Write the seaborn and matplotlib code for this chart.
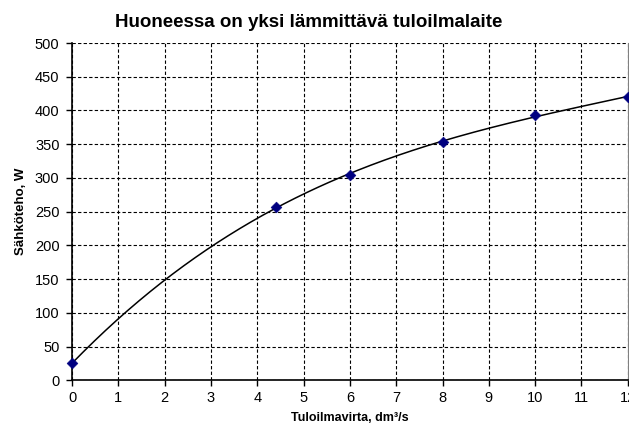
import numpy as np
import pandas as pd
from matplotlib import pyplot as plt
import seaborn as sns

# Mitatut pisteet
tuloilmavirta = [0, 4.4, 6, 8, 10, 12]
sahkoteho = [25, 257, 305, 353, 393, 420]

x_ticks = list(range(0, 13))
y_ticks = list(range(0, 501, 50))

otsikko = "Huoneessa on yksi lämmittävä tuloilmalaite"
x_otsikko = "Tuloilmavirta, dm³/s"
y_otsikko = "Sähköteho, W"

sns.set_style("white")
plt.rcParams['font.family'] = ['Liberation Sans', 'DejaVu Sans']
plt.rcParams['text.color'] = 'black'
plt.rcParams['axes.labelcolor'] = 'black'
plt.rcParams['xtick.color'] = 'black'
plt.rcParams['ytick.color'] = 'black'

df = pd.DataFrame({'x': tuloilmavirta, 'y': sahkoteho})

# Trendiviiva (3. asteen polynomi)
kertoimet = np.polyfit(df['x'], df['y'], 3)
xx = np.linspace(0, 12, 200)
trendi = pd.DataFrame({'x': xx, 'y': np.polyval(kertoimet, xx)})

fig = plt.figure(figsize=(6.29, 4.28), dpi=100)
ax = fig.add_axes([0.1145, 0.1115, 0.8835, 0.788])

sns.lineplot(data=trendi, x='x', y='y', ax=ax, color='black', linewidth=1.1)
sns.scatterplot(data=df, x='x', y='y', ax=ax, marker='D', color='#000080',
                s=30, edgecolor='#000080', zorder=5, clip_on=False)

ax.set_xlim(0, 12)
ax.set_ylim(0, 500)
ax.set_xticks(x_ticks)
ax.set_yticks(y_ticks)
ax.grid(True, color='black', linestyle=(0, (3, 2)), linewidth=0.8)
ax.set_axisbelow(True)

ax.tick_params(axis='both', direction='out', length=4, width=1, color='black',
               labelsize=10.5, pad=5, bottom=True, left=True)
ax.tick_params(axis='x', pad=4)

ax.spines['top'].set_visible(False)
ax.spines['right'].set_color('#808080')
ax.spines['left'].set_color('black')
ax.spines['bottom'].set_color('black')
for s in ['left', 'bottom']:
    ax.spines[s].set_linewidth(1.2)

ax.set_xlabel(x_otsikko, fontsize=9, fontweight='bold', labelpad=5)
ax.set_ylabel(y_otsikko, fontsize=9.5, fontweight='bold', labelpad=6)
fig.suptitle(otsikko, fontsize=13.5, fontweight='bold', x=0.49, y=0.968, va='top')

fig.savefig("out.png", dpi=100)
